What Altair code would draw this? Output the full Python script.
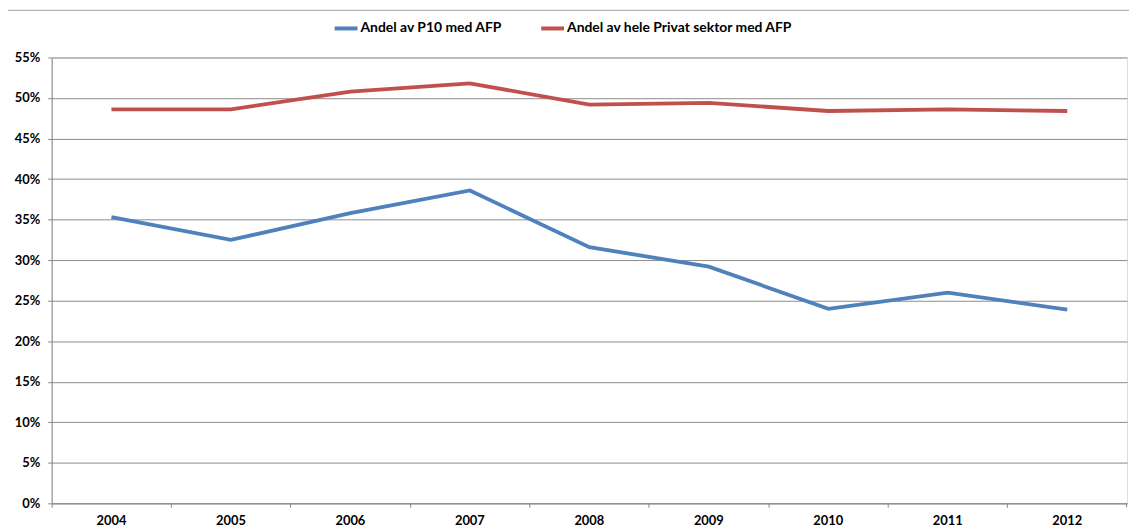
import altair as alt
import pandas as pd

years = ["2004", "2005", "2006", "2007", "2008", "2009", "2010", "2011", "2012"]
p10 = [0.353, 0.325, 0.358, 0.386, 0.316, 0.292, 0.240, 0.260, 0.239]
privat = [0.486, 0.486, 0.508, 0.518, 0.492, 0.494, 0.484, 0.486, 0.484]
series_names = ["Andel av P10 med AFP", "Andel av hele Privat sektor med AFP"]
series_colors = ["#4F81BD", "#C0504D"]
y_ticks = [i * 0.05 for i in range(12)]

rows = []
for name, vals in zip(series_names, [p10, privat]):
    for yr, v in zip(years, vals):
        rows.append({"Year": yr, "Value": v, "Series": name})
df = pd.DataFrame(rows)

W, H = 1083, 449
FONT = "Lato"

lines = alt.Chart(df).mark_line(strokeWidth=3.8).encode(
    x=alt.X("Year:O", bandPosition=0.5,
            scale=alt.Scale(type="band", paddingInner=0, paddingOuter=0),
            axis=alt.Axis(title=None, labelAngle=0, bandPosition=0, grid=False,
                          tickSize=4, tickColor="#888888", domainColor="#888888",
                          labelFont=FONT, labelFontWeight="bold", labelFontSize=13,
                          labelColor="#000000", labelPadding=7,
                          labelBaseline="top")),
    y=alt.Y("Value:Q", scale=alt.Scale(domain=[0, 0.55], nice=False),
            axis=alt.Axis(title=None, format=".0%", values=y_ticks,
                          grid=True, gridColor="#8c8c8c", gridWidth=1,
                          tickSize=4, tickColor="#888888", domainColor="#888888",
                          labelFont=FONT, labelFontWeight="bold", labelFontSize=13,
                          labelColor="#000000", labelPadding=8)),
    color=alt.Color("Series:N",
                    scale=alt.Scale(domain=series_names, range=series_colors),
                    legend=alt.Legend(title=None, orient="none", legendX=283, legendY=-43,
                                      direction="horizontal", symbolType="stroke",
                                      symbolSize=529, symbolStrokeWidth=4,
                                      labelFont=FONT, labelFontWeight="bold",
                                      labelFontSize=14, labelColor="#000000",
                                      labelLimit=0,
                                      labelOffset=1, columnPadding=31)),
)

border_top = alt.Chart(pd.DataFrame({"k": [0]})).mark_rule(color="#a0a0a0", strokeWidth=1).encode(
    x=alt.value(-45), x2=alt.value(W + 4), y=alt.value(-47.5))
border_left = alt.Chart(pd.DataFrame({"k": [0]})).mark_rule(color="#a0a0a0", strokeWidth=1).encode(
    x=alt.value(-44.5), y=alt.value(-48), y2=alt.value(H + 30))
last_tick = alt.Chart(pd.DataFrame({"k": [0]})).mark_rule(color="#888888", strokeWidth=1).encode(
    x=alt.value(W - 0.5), y=alt.value(H), y2=alt.value(H + 4))

chart = alt.layer(border_top, border_left, lines, last_tick).properties(
    width=W, height=H,
    autosize=alt.AutoSizeParams(type="none"),
    padding={"left": 44, "top": 48, "right": 2, "bottom": 22},
).configure_view(fill="#E6E6E6", stroke=None).configure(background="#FFFFFF")

chart.save("out.html", embed_options={"renderer": "svg", "actions": False})
